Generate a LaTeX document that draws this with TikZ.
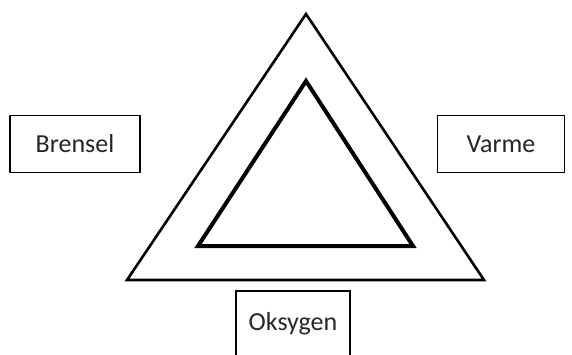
\documentclass[tikz,border=0pt]{standalone}
\usepackage{fontspec}
\setmainfont{Carlito}
\usetikzlibrary{positioning}

\begin{document}
\begin{tikzpicture}[
        x=1pt, y=-1pt,
        box/.style={draw, line width=1.3pt, align=center, inner sep=0pt, text=black!85, font=\fontsize{26}{30}\selectfont},
        outer/.style={draw, line width=2.6pt, line join=miter},
        inner/.style={draw, line width=4pt, line join=miter}
    ]
        \useasboundingbox (0,0) rectangle (572,354);

        % triangle corners
        \coordinate (otop) at (306,14);
        \coordinate (oleft) at (127,280);
        \coordinate (oright) at (484,280);
        \coordinate (itop) at (306,81);
        \coordinate (ileft) at (198,246);
        \coordinate (iright) at (413,246);

        \draw[outer] (otop) -- (oleft) -- (oright) -- cycle;
        \draw[inner] (itop) -- (ileft) -- (iright) -- cycle;

        \node[box, minimum width=130, minimum height=57] (brensel) at (75,144) {Brensel};
        \node[box, minimum width=127, minimum height=57] (varme) at (501,144) {Varme};
        \node[box, minimum width=114, minimum height=66] (oksygen) at (293,324) {Oksygen};
    \end{tikzpicture}
\end{document}
